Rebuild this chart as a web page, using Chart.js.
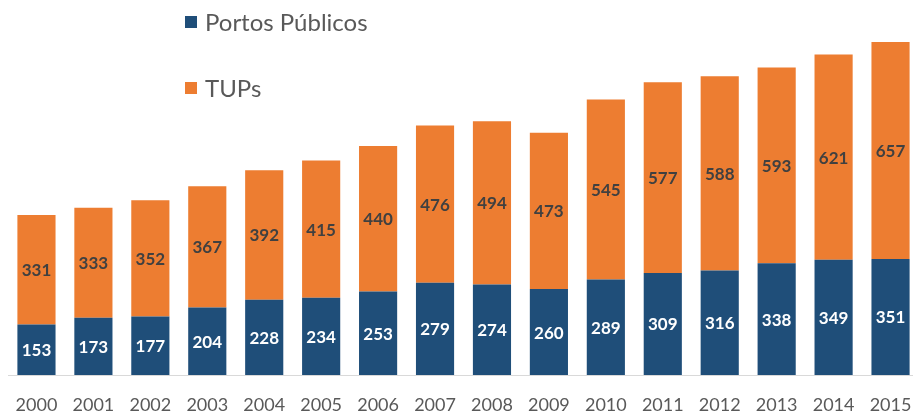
<!DOCTYPE html>
<html>
<head>
<meta charset="utf-8">
<script src="https://cdn.jsdelivr.net/npm/chart.js@4/dist/chart.umd.min.js"></script>
<style>
  html, body { margin: 0; padding: 0; background: #fff; overflow: hidden; }
  #wrap { width: 930px; height: 413px; }
</style>
</head>
<body>
<div id="wrap"><canvas id="portChart" width="930" height="413"></canvas></div>
<script>
// dados do gráfico
const anos = ['2000', '2001', '2002', '2003', '2004', '2005', '2006', '2007',
  '2008', '2009', '2010', '2011', '2012', '2013', '2014', '2015'];
const portosPublicos = [153, 173, 177, 204, 228, 234, 253, 279, 274, 260, 289, 309, 316, 338, 349, 351];
const tups = [331, 333, 352, 367, 392, 415, 440, 476, 494, 473, 545, 577, 588, 593, 621, 657];

const AZUL = '#1F4E79';
const LARANJA = '#ED7D31';
const FONTE = 'Lato, "Open Sans", sans-serif';

// rótulos de valor dentro das barras
const rotulosPlugin = {
  id: 'rotulos',
  afterDatasetsDraw(chart) {
    const ctx = chart.ctx;
    ctx.save();
    ctx.font = 'bold 17px ' + FONTE;
    ctx.textAlign = 'center';
    ctx.textBaseline = 'middle';
    chart.data.datasets.forEach((ds, i) => {
      const meta = chart.getDatasetMeta(i);
      ctx.fillStyle = i === 0 ? '#FFFFFF' : '#404040';
      meta.data.forEach((bar, j) => {
        const y = (bar.y + bar.base) / 2 + 1;
        ctx.fillText(String(ds.data[j]), bar.x, y);
      });
    });
    ctx.restore();
  }
};

// legenda vertical no topo
const legendaPlugin = {
  id: 'legendaVertical',
  afterDraw(chart) {
    const ctx = chart.ctx;
    ctx.save();
    ctx.font = '24px ' + FONTE;
    ctx.textBaseline = 'middle';
    const linhas = [22, 88];
    chart.data.datasets.forEach((ds, i) => {
      ctx.fillStyle = ds.backgroundColor;
      ctx.fillRect(185, linhas[i] - 6, 12, 12);
      ctx.fillStyle = '#595959';
      ctx.fillText(ds.label, 205, linhas[i] + 1);
    });
    ctx.restore();
  }
};

new Chart(document.getElementById('portChart'), {
  type: 'bar',
  data: {
    labels: anos,
    datasets: [
      {
        label: 'Portos Públicos',
        data: portosPublicos,
        backgroundColor: AZUL,
        barPercentage: 0.67,
        categoryPercentage: 1
      },
      {
        label: 'TUPs',
        data: tups,
        backgroundColor: LARANJA,
        barPercentage: 0.67,
        categoryPercentage: 1
      }
    ]
  },
  options: {
    responsive: false,
    animation: false,
    layout: { padding: { left: 8, right: 11, top: 0, bottom: 0 } },
    plugins: {
      legend: { display: false },
      tooltip: { enabled: false }
    },
    scales: {
      x: {
        stacked: true,
        grid: { display: false },
        border: { display: true, color: '#D9D9D9', width: 1 },
        ticks: {
          color: '#595959',
          font: { family: FONTE, size: 18 },
          padding: 11,
          maxRotation: 0,
          autoSkip: false
        },
        afterFit(scale) { scale.height = 38; }
      },
      y: {
        stacked: true,
        display: false,
        min: 0,
        max: 1135
      }
    }
  },
  plugins: [rotulosPlugin, legendaPlugin]
});
</script>
</body>
</html>
